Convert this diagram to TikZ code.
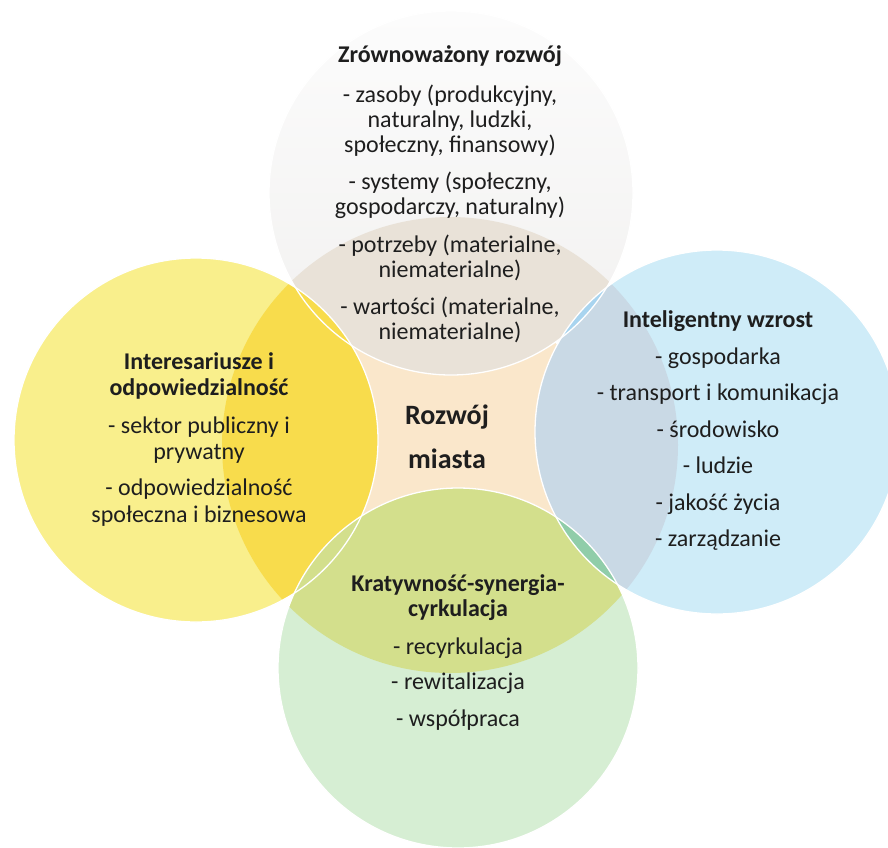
\documentclass[tikz,border=0pt]{standalone}
\usepackage{fontspec}
\setmainfont{Carlito}
\definecolor{peach}{HTML}{FAE7CB}
\definecolor{toptop}{HTML}{FCFCFC}
\definecolor{topbot}{HTML}{F1F0EF}
\definecolor{topin}{HTML}{E9E2D8}
\definecolor{yelout}{HTML}{F9EF8C}
\definecolor{yelin}{HTML}{F8DC4C}
\definecolor{bluout}{HTML}{CFECF8}
\definecolor{bluin}{HTML}{C9D9E5}
\definecolor{grnout}{HTML}{D6EED3}
\definecolor{grnin}{HTML}{D3DF8C}
\definecolor{lensTR}{HTML}{A8D4EF}
\definecolor{lensBR}{HTML}{90CDA9}
\definecolor{ink}{HTML}{1E1E1E}
\begin{document}
\begin{tikzpicture}[x=1pt,y=-1pt,
  txt/.style={font=\fontsize{24}{28}\selectfont, text=ink, anchor=base, inner sep=0pt},
  hd/.style={txt, font=\fontsize{24}{28}\selectfont\bfseries},
  big/.style={txt, font=\fontsize{28}{32}\selectfont\bfseries},
  ring/.style={draw=white, line width=1.3pt}]
\useasboundingbox (0,0) rectangle (888,847);
\fill[white] (0,0) rectangle (888,847);
\clip (0,0) rectangle (888,847);
\coordinate (cc) at (450,445);
\coordinate (ct) at (451,193);
\coordinate (cl) at (196,440);
\coordinate (cr) at (717,432);
\coordinate (cb) at (458,668);
% centre
\fill[peach] (454,432) circle[radius=135pt];
% top circle
\shade[top color=toptop, bottom color=topbot] (ct) circle[radius=182pt];
\begin{scope}\clip (cc) circle[radius=228pt];\fill[topin] (ct) circle[radius=182pt];\end{scope}
% left circle
\fill[yelout] (cl) circle[radius=182pt];
\begin{scope}\clip (cc) circle[radius=228pt];\fill[yelin] (cl) circle[radius=182pt];\end{scope}
% right circle
\fill[bluout] (cr) circle[radius=182pt];
\begin{scope}\clip (cc) circle[radius=228pt];\fill[bluin] (cr) circle[radius=182pt];\end{scope}
\begin{scope}\clip (ct) circle[radius=182pt];\fill[lensTR] (cr) circle[radius=182pt];\end{scope}
% bottom circle
\fill[grnout] (cb) circle[radius=180pt];
\begin{scope}\clip (cc) circle[radius=228pt];\fill[grnin] (cb) circle[radius=180pt];\end{scope}
\begin{scope}\clip (cr) circle[radius=182pt];\fill[lensBR] (cb) circle[radius=180pt];\end{scope}
% outlines
\draw[ring] (ct) circle[radius=182pt];
\draw[ring] (cl) circle[radius=182pt];
\draw[ring] (cr) circle[radius=182pt];
\draw[ring] (cb) circle[radius=180pt];
% top texts
\node[hd]  (t0) at (450,62)  {Zrównoważony rozwój};
\node[txt] (t1) at (450,102) {- zasoby (produkcyjny,};
\node[txt] (t2) at (450,127) {naturalny, ludzki,};
\node[txt] (t3) at (450,152) {społeczny, finansowy)};
\node[txt] (t4) at (450,189) {- systemy (społeczny,};
\node[txt] (t5) at (450,214) {gospodarczy, naturalny)};
\node[txt] (t6) at (450,252) {- potrzeby (materialne,};
\node[txt] (t7) at (450,277) {niematerialne)};
\node[txt] (t8) at (450,314) {- wartości (materialne,};
\node[txt] (t9) at (450,339) {niematerialne)};
% left texts
\node[hd]  (l0) at (199,369) {Interesariusze i};
\node[hd]  (l1) at (199,395) {odpowiedzialność};
\node[txt] (l2) at (199,433) {- sektor publiczny i};
\node[txt] (l3) at (199,459) {prywatny};
\node[txt] (l4) at (199,495) {- odpowiedzialność};
\node[txt] (l5) at (199,522) {społeczna i biznesowa};
% centre texts
\node[big] (c0) at (447,424) {Rozwój};
\node[big] (c1) at (447,468) {miasta};
% right texts
\node[hd]  (r0) at (718,327) {Inteligentny wzrost};
\node[txt] (r1) at (718,364) {- gospodarka};
\node[txt] (r2) at (718,400) {- transport i komunikacja};
\node[txt] (r3) at (718,437) {- środowisko};
\node[txt] (r4) at (718,473) {- ludzie};
\node[txt] (r5) at (718,510) {- jakość życia};
\node[txt] (r6) at (718,546) {- zarządzanie};
% bottom texts
\node[hd]  (b0) at (458,591) {Kratywność-synergia-};
\node[hd]  (b1) at (458,616) {cyrkulacja};
\node[txt] (b2) at (458,654) {- recyrkulacja};
\node[txt] (b3) at (458,689) {- rewitalizacja};
\node[txt] (b4) at (458,726) {- współpraca};
\end{tikzpicture}
\end{document}
